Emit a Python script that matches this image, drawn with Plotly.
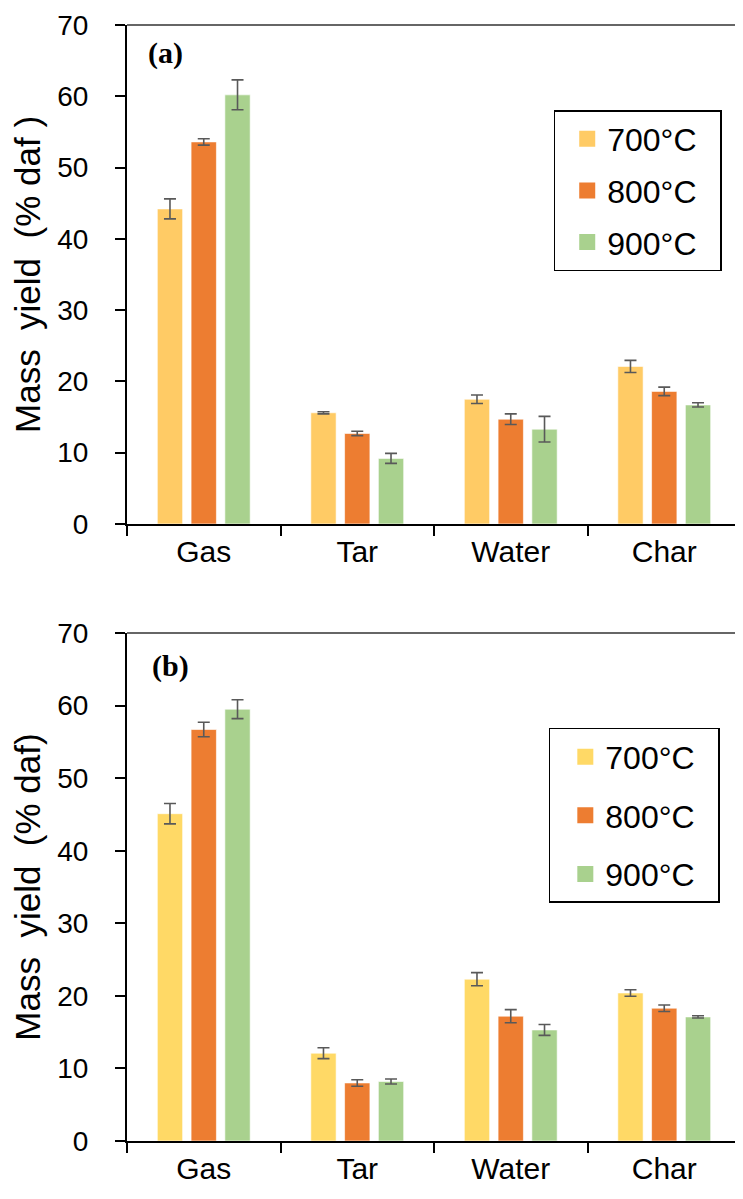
import plotly.graph_objects as go

categories = ["Gas", "Tar", "Water", "Char"]
series_names = ["700°C", "800°C", "900°C"]

# Panel (a)
a_700 = [44.2, 15.6, 17.5, 22.1]
a_700_err = [1.4, 0.15, 0.6, 0.85]
a_800 = [53.6, 12.7, 14.7, 18.6]
a_800_err = [0.45, 0.3, 0.75, 0.6]
a_900 = [60.2, 9.2, 13.3, 16.7]
a_900_err = [2.1, 0.7, 1.8, 0.3]

# Panel (b)
b_700 = [45.1, 12.1, 22.3, 20.4]
b_700_err = [1.4, 0.75, 0.9, 0.45]
b_800 = [56.7, 8.0, 17.2, 18.3]
b_800_err = [1.0, 0.45, 0.9, 0.45]
b_900 = [59.5, 8.2, 15.3, 17.1]
b_900_err = [1.3, 0.35, 0.75, 0.15]

colors_a = ["#FFCB65", "#ED7D31", "#A9D18E"]
colors_b = ["#FFD966", "#ED7D31", "#A9D18E"]

FONT = "Liberation Sans, Arial, sans-serif"
NB = "\u00a0"

fig = go.Figure()

panels = [
    ("x", "y", "legend", [a_700, a_800, a_900], [a_700_err, a_800_err, a_900_err], colors_a, NB * 2),
    ("x2", "y2", "legend2", [b_700, b_800, b_900], [b_700_err, b_800_err, b_900_err], colors_b, NB * 2),
]

for xa, ya, leg, vals, errs, cols, pad in panels:
    for name, v, e, c in zip(series_names, vals, errs, cols):
        fig.add_trace(go.Bar(
            x=categories, y=v, name=name, xaxis=xa, yaxis=ya,
            marker=dict(color=c, line=dict(color="rgba(255,255,255,0.6)", width=1)),
            error_y=dict(type="data", array=e, visible=True, color="#595959",
                         thickness=1.6, width=6),
            showlegend=False,
        ))
    for name, c in zip(series_names, cols):
        fig.add_trace(go.Scatter(
            x=[None], y=[None], mode="markers", name=name + pad, xaxis=xa, yaxis=ya,
            marker=dict(symbol="square", size=18, color=c),
            legend=leg, legendgroup=leg + name, showlegend=True,
        ))

axis_common_y = dict(
    range=[0, 70], dtick=10, showgrid=False, zeroline=False,
    showline=True, linecolor="black", linewidth=2,
    ticks="outside", ticklen=10, tickwidth=1.5, tickcolor="black",
    tickfont=dict(family=FONT, size=28, color="black"),
    ticklabelstandoff=21, ticklabeloverflow="allow",
    fixedrange=True, automargin=False,
)
axis_common_x = dict(
    showgrid=False, zeroline=False, showline=True, linecolor="black", linewidth=2,
    ticks="outside", ticklen=10, tickwidth=1.5, tickcolor="black",
    tickson="boundaries", automargin=False,
    tickfont=dict(family=FONT, size=30, color="black"),
)

title_font = dict(family=FONT, size=35, color="black")
gap2 = NB * 2

fig.update_layout(
    width=735, height=1191,
    margin=dict(l=119, r=2, t=17, b=58),
    paper_bgcolor="white", plot_bgcolor="white",
    barmode="group", bargap=0.34, bargroupgap=0.25,
    xaxis=dict(domain=[0, 1], anchor="y", **axis_common_x),
    yaxis=dict(domain=[0.5529, 1.0], anchor="x",
               title=dict(text=f"Mass{gap2}yield{gap2}(%{NB}daf{NB})", standoff=36,
                          font=title_font),
               **axis_common_y),
    xaxis2=dict(domain=[0, 1], anchor="y2", **axis_common_x),
    yaxis2=dict(domain=[0.0, 0.4552], anchor="x2",
                title=dict(text=f"Mass{gap2}yield{gap2}(%{NB}daf)", standoff=36,
                           font=title_font),
                **axis_common_y),
    legend=dict(x=0.695, y=0.9238, xanchor="left", yanchor="top",
                bordercolor="black", borderwidth=1.5, bgcolor="white",
                font=dict(family=FONT, size=32, color="black"),
                tracegroupgap=7, indentation=12),
    legend2=dict(x=0.687, y=0.3701, xanchor="left", yanchor="top",
                 bordercolor="black", borderwidth=1.5, bgcolor="white",
                 font=dict(family=FONT, size=32, color="black"),
                 tracegroupgap=14, indentation=15),
    showlegend=True,
)

# Plot frame (top and right borders)
for xr, yr in [("x domain", "y domain"), ("x2 domain", "y2 domain")]:
    fig.add_shape(type="line", xref=xr, yref=yr, x0=0, x1=1, y0=1, y1=1,
                  line=dict(color="#333333", width=1.5))
    fig.add_shape(type="line", xref=xr, yref=yr, x0=1, x1=1, y0=0, y1=1,
                  line=dict(color="#808080", width=1.2))

fig.add_annotation(text="<b>(a)</b>", xref="x domain", yref="y domain",
                   x=0.031, y=0.943, xanchor="left", yanchor="middle", showarrow=False,
                   font=dict(family="Liberation Serif, Times New Roman, serif", size=30, color="black"))
fig.add_annotation(text="<b>(b)</b>", xref="x2 domain", yref="y2 domain",
                   x=0.038, y=0.935, xanchor="left", yanchor="middle", showarrow=False,
                   font=dict(family="Liberation Serif, Times New Roman, serif", size=30, color="black"))

fig.write_html("out.html")
